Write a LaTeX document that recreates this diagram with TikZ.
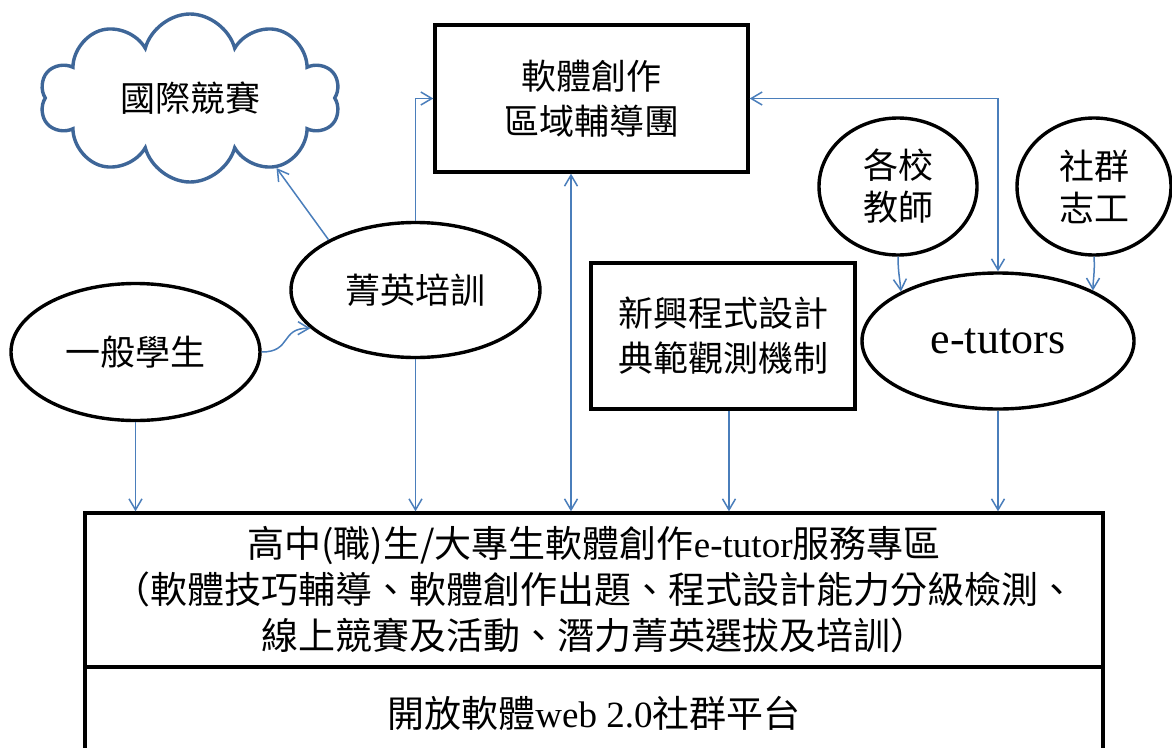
\documentclass[tikz,border=0pt]{standalone}
\usepackage{fontspec}
\setmainfont{Noto Sans CJK TC}
\newfontfamily\lat{Liberation Serif}
\usetikzlibrary{shapes.geometric,shapes.symbols,arrows.meta}
\definecolor{conn}{RGB}{74,126,187}
\definecolor{cloudc}{RGB}{62,102,152}
\begin{document}
\begin{tikzpicture}[x=1pt,y=-1pt,
  box/.style={draw, line width=3.4pt, rectangle, align=center, inner sep=0pt},
  oval/.style={draw, line width=3.4pt, ellipse, align=center, inner sep=0pt},
  lbl/.style={font=\fontsize{35}{45}\selectfont},
  tip/.tip={Straight Barb[length=11pt,width=13pt]},
  arr/.style={draw=conn, line width=1.5pt, -tip},
  darr/.style={draw=conn, line width=1.5pt, tip-tip}]
\useasboundingbox (0,0) rectangle (1172,747);
\clip (0,0) rectangle (1172,747);
\fill[white] (0,0) rectangle (1172,747);

\node[cloud, draw=cloudc, line width=3.4pt, cloud puffs=10, cloud ignores aspect,
      minimum width=300pt, minimum height=168pt, lbl] (cl) at (190,98) {國際競賽};
\node[box, minimum width=313pt, minimum height=147pt, lbl] (team) at (591.5,98.5) {軟體創作\\區域輔導團};
\node[oval, minimum width=249pt, minimum height=135pt, lbl] (jy) at (415.5,290) {菁英培訓};
\node[oval, minimum width=249pt, minimum height=137pt, lbl] (gs) at (135.5,352) {一般學生};
\node[box, minimum width=264pt, minimum height=146pt, lbl] (nx) at (723,336) {新興程式設計\\典範觀測機制};
\node[oval, minimum width=272pt, minimum height=136pt, font=\lat\fontsize{44}{50}\selectfont] (et) at (998,341) {e-tutors};
\node[oval, minimum width=158pt, minimum height=137pt, font=\fontsize{35}{42}\selectfont] (tc) at (898,186.5) {各校\\教師};
\node[oval, minimum width=154pt, minimum height=137pt, font=\fontsize{35}{42}\selectfont] (sq) at (1094,186.5) {社群\\志工};
\node[box, minimum width=1018pt, minimum height=154pt, font=\fontsize{37}{46}\selectfont] (zone) at (594,590)
  {高中(職)生/大專生軟體創作{\lat e-tutor}服務專區\\（軟體技巧輔導、軟體創作出題、程式設計能力分級檢測、\\線上競賽及活動、潛力菁英選拔及培訓）};
\node[box, minimum width=1018pt, minimum height=92pt, font=\fontsize{37}{45}\selectfont] (plat) at (594,713)
  {開放軟體{\lat web 2.0}社群平台};

\draw[arr] (jy.150) -- (cl.-39);
\draw[arr] (jy.north) |- (team.west);
\draw[darr] ([xshift=-20.5pt]team.south) -- ([xshift=-20.5pt]team.south |- zone.north);
\draw[darr] (team.east) -| (et.north);
\draw[arr] (gs.east) .. controls (292,352) and (280,328) .. (jy.200);
\draw[arr] (gs.south) -- (gs.south |- zone.north);
\draw[arr] (jy.south) -- (jy.south |- zone.north);
\draw[arr] ([xshift=6pt]nx.south) -- ([xshift=6pt]nx.south |- zone.north);
\draw[arr] (et.south) -- (et.south |- zone.north);
\draw[arr] (tc.south) .. controls (898,272) and (900,280) .. (et.153);
\draw[arr] (sq.south) .. controls (1095,272) and (1093,280) .. (et.28);
\end{tikzpicture}
\end{document}
